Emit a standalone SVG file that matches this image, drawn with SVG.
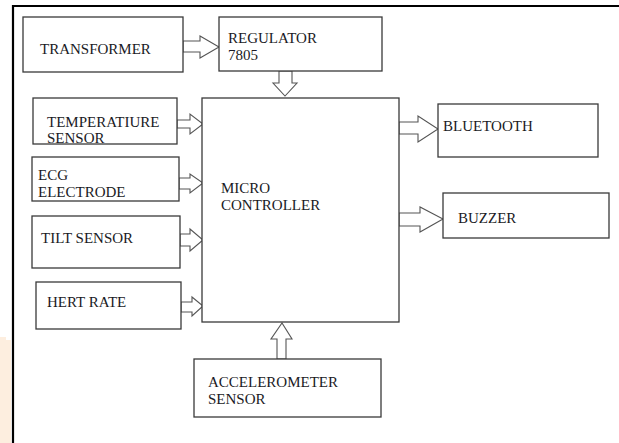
<svg xmlns="http://www.w3.org/2000/svg" width="619" height="443" viewBox="0 0 619 443">
  <style>
    .box { fill: #ffffff; stroke: #3a3a3a; stroke-width: 1.3; }
    .arrow { fill: #ffffff; stroke: #555555; stroke-width: 1.1; stroke-linejoin: miter; }
    .label { font-family: "Liberation Serif", "Times New Roman", serif; font-size: 15px; fill: #1a1a24; }
  </style>
  <rect width="619" height="443" fill="#ffffff"/>
  <!-- page frame and tint -->
  <path d="M0 337 H6 V340 H11 V443 H0 Z" fill="#fdeedf"/>
  <line x1="12" y1="6" x2="619" y2="6" stroke="#000" stroke-width="2.2"/>
  <line x1="13" y1="5" x2="13" y2="443" stroke="#000" stroke-width="2.2"/>

  <g id="connectors">
    <!-- transformer -> regulator -->
    <path class="arrow" d="M183 41 H200 V36 L219 47 L200 58 V52 H183 Z"/>
    <!-- regulator -> micro -->
    <path class="arrow" d="M279 71 V83 H273 L285 96 L297 83 H292 V71 Z"/>
    <!-- temperature -> micro -->
    <path class="arrow" d="M177 120 H190 V114 L203 124 L190 134 V128 H177 Z"/>
    <!-- ecg -> micro -->
    <path class="arrow" d="M179 178 H190 V174 L203 183 L190 193 V189 H179 Z"/>
    <!-- tilt -> micro -->
    <path class="arrow" d="M180 234 H190 V229 L203 240 L190 251 V246 H180 Z"/>
    <!-- hert rate -> micro -->
    <path class="arrow" d="M181 302 H192 V297 L203 306 L192 316 V312 H181 Z"/>
    <!-- accelerometer -> micro -->
    <path class="arrow" d="M277 359 V339 H271 L282 323 L292 339 H286 V359 Z"/>
    <!-- micro -> bluetooth -->
    <path class="arrow" d="M399 122 H418 V116 L438 129 L418 142 V134 H399 Z"/>
    <!-- micro -> buzzer -->
    <path class="arrow" d="M399 213 H420 V207 L443 219 L420 232 V226 H399 Z"/>
  </g>

  <g id="transformer">
    <rect class="box" x="23" y="17" width="160" height="55"/>
    <text class="label" x="40" y="54">TRANSFORMER</text>
  </g>
  <g id="regulator">
    <rect class="box" x="219" y="17" width="163" height="54"/>
    <text class="label" x="228" y="43">REGULATOR</text>
    <text class="label" x="228" y="60">7805</text>
  </g>
  <g id="microcontroller">
    <rect class="box" x="202" y="98" width="197" height="224"/>
    <text class="label" x="221" y="193">MICRO</text>
    <text class="label" x="221" y="210">CONTROLLER</text>
  </g>
  <g id="temperature">
    <rect class="box" x="33" y="98" width="144" height="46"/>
    <text class="label" x="47" y="127">TEMPERATIURE</text>
    <text class="label" x="47" y="143">SENSOR</text>
  </g>
  <g id="ecg">
    <rect class="box" x="32" y="157" width="147" height="44"/>
    <text class="label" x="38" y="180">ECG</text>
    <text class="label" x="38" y="197">ELECTRODE</text>
  </g>
  <g id="tilt">
    <rect class="box" x="32" y="216" width="148" height="52"/>
    <text class="label" x="41" y="243">TILT SENSOR</text>
  </g>
  <g id="hert-rate">
    <rect class="box" x="36" y="282" width="145" height="47"/>
    <text class="label" x="47" y="307">HERT RATE</text>
  </g>
  <g id="accelerometer">
    <rect class="box" x="194" y="359" width="187" height="58"/>
    <text class="label" x="208" y="387">ACCELEROMETER</text>
    <text class="label" x="208" y="404">SENSOR</text>
  </g>
  <g id="bluetooth">
    <rect class="box" x="438" y="104" width="160" height="53"/>
    <text class="label" x="443" y="131">BLUETOOTH</text>
  </g>
  <g id="buzzer">
    <rect class="box" x="443" y="193" width="166" height="45"/>
    <text class="label" x="458" y="223">BUZZER</text>
  </g>
</svg>
